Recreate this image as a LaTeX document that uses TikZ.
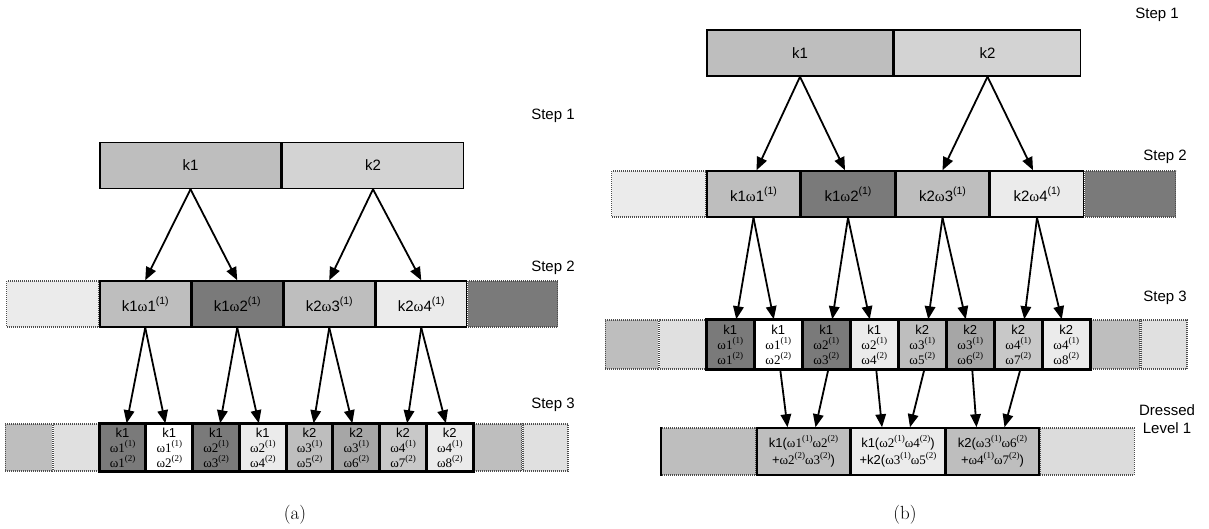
\documentclass[tikz,border=0pt]{standalone}
\usepackage{fontspec}
\newfontfamily\arialfont{Liberation Sans}
\newfontfamily\timesfont{Liberation Serif}
\usetikzlibrary{positioning,arrows.meta,backgrounds}
\definecolor{gmid}{HTML}{BEBEBE}
\definecolor{gtop}{HTML}{D3D3D3}
\definecolor{gdark}{HTML}{7A7A7A}
\definecolor{glight}{HTML}{EBEBEB}
\definecolor{gpale}{HTML}{E0E0E0}
\definecolor{gsix}{HTML}{A6A6A6}
\definecolor{gseven}{HTML}{C8C8C8}
\definecolor{gside}{HTML}{DCDCDC}

\newcommand{\om}{{\timesfont ω}}
\newcommand{\up}[1]{\raisebox{0.45em}{\fontsize{10.5}{10.5}\selectfont(#1)}}
\newcommand{\wl}[2]{{\timesfont ω#1\raisebox{0.45em}{\fontsize{9}{9}\selectfont(#2)}}}
\newcommand{\trip}[3]{#1\\\wl{#2}{1}\\\wl{#3}{2}}

\begin{document}
\begin{tikzpicture}[x=1pt,y=-1pt,
  cell/.style={draw, line width=1.5pt, inner sep=0pt, minimum height=46pt,
    font=\arialfont\fontsize{15}{17}\selectfont},
  subcell/.style={cell, minimum width=45.25pt, minimum height=47pt, align=center,
    font=\arialfont\fontsize{13}{15}\selectfont},
  sidebox/.style={draw=black!70, line width=1.2pt, dash pattern=on 1pt off 1pt,
    inner sep=0pt, minimum height=46pt},
  arr/.style={-{Triangle[length=13pt,width=10.5pt]}, line width=1.8pt},
  groupline/.style={line width=2.6pt},
  steplabel/.style={font=\arialfont\fontsize{15}{18}\selectfont, align=center},
  caption/.style={font=\fontsize{19}{22}\selectfont}]
  \useasboundingbox (0,0) rectangle (1209,529);

  %%% panel (a)
  % Step 1
  \node[cell, fill=gmid, minimum width=181pt] (a1k1) at (190.5,165.5) {k1};
  \node[cell, fill=gtop, minimum width=181pt, right=0pt of a1k1] (a1k2) {k2};

  % Step 2
  \node[cell, fill=gmid, minimum width=90.5pt] (a2c1) at (145.25,304) {k1\om1\up{1}};
  \node[cell, fill=gdark, minimum width=90.5pt, right=0pt of a2c1] (a2c2) {k1\om2\up{1}};
  \node[cell, fill=gmid, minimum width=90.5pt, right=0pt of a2c2] (a2c3) {k2\om3\up{1}};
  \node[cell, fill=glight, minimum width=90.5pt, right=0pt of a2c3] (a2c4) {k2\om4\up{1}};
  \begin{scope}[on background layer]
    \node[sidebox, fill=glight, minimum width=92pt, left=0pt of a2c1] (a2l) {};
    \node[sidebox, fill=gdark, minimum width=90pt, right=0pt of a2c4] (a2r) {};
  \end{scope}

  % Step 3
  \node[subcell, fill=gdark] (a3c1) at (122.6,447.5) {\trip{k1}{1}{1}};
  \node[subcell, fill=white, right=0pt of a3c1] (a3c2) {\trip{k1}{1}{2}};
  \node[subcell, fill=gdark, right=0pt of a3c2] (a3c3) {\trip{k1}{2}{3}};
  \node[subcell, fill=glight, right=0pt of a3c3] (a3c4) {\trip{k1}{2}{4}};
  \node[subcell, fill=gmid, right=0pt of a3c4] (a3c5) {\trip{k2}{3}{5}};
  \node[subcell, fill=gsix, right=0pt of a3c5] (a3c6) {\trip{k2}{3}{6}};
  \node[subcell, fill=gseven, right=0pt of a3c6] (a3c7) {\trip{k2}{4}{7}};
  \node[subcell, fill=glight, right=0pt of a3c7] (a3c8) {\trip{k2}{4}{8}};
  \draw[groupline] (a3c1.north west) rectangle (a3c8.south east);
  \begin{scope}[on background layer]
    \node[sidebox, fill=gpale, minimum width=45pt, minimum height=47pt, left=0pt of a3c1] (a3l2) {};
    \node[sidebox, fill=gmid, minimum width=47pt, minimum height=47pt, left=0pt of a3l2] (a3l1) {};
    \node[sidebox, fill=gmid, minimum width=48pt, minimum height=47pt, right=0pt of a3c8] (a3r1) {};
    \node[sidebox, fill=gpale, minimum width=45pt, minimum height=47pt, right=0pt of a3r1] (a3r2) {};
  \end{scope}

  % arrows
  \foreach \p/\c in {a1k1/a2c1, a1k1/a2c2, a1k2/a2c3, a1k2/a2c4}
    \draw[arr] (\p.south) -- (\c.north);
  \foreach \i [evaluate=\i as \l using int(2*\i-1), evaluate=\i as \r using int(2*\i)] in {1,...,4} {
    \draw[arr] (a2c\i.south) -- ([xshift=4pt]a3c\l.north);
    \draw[arr] (a2c\i.south) -- ([xshift=-4pt]a3c\r.north);
  }

  \node[steplabel] (a1lab) at (553,116) {Step 1};
  \node[steplabel] (a2lab) at (553,268) {Step 2};
  \node[steplabel] (a3lab) at (553,405) {Step 3};
  \node[caption] (acap) at (295,515) {(a)};

  %%% panel (b)
  % Step 1
  \node[cell, fill=gmid, minimum width=186pt] (b1k1) at (800,53) {k1};
  \node[cell, fill=gtop, minimum width=186pt, right=0pt of b1k1] (b1k2) {k2};

  % Step 2
  \node[cell, fill=gmid, minimum width=93pt] (b2c1) at (753.5,194) {k1\om1\up{1}};
  \node[cell, fill=gdark, minimum width=93pt, right=0pt of b2c1] (b2c2) {k1\om2\up{1}};
  \node[cell, fill=gmid, minimum width=93pt, right=0pt of b2c2] (b2c3) {k2\om3\up{1}};
  \node[cell, fill=glight, minimum width=93pt, right=0pt of b2c3] (b2c4) {k2\om4\up{1}};
  \begin{scope}[on background layer]
    \node[sidebox, fill=glight, minimum width=94pt, left=0pt of b2c1] (b2l) {};
    \node[sidebox, fill=gdark, minimum width=91pt, right=0pt of b2c4] (b2r) {};
  \end{scope}

  % Step 3
  \node[subcell, fill=gdark, minimum width=46.5pt, minimum height=49pt] (b3c1) at (730.25,344.5) {\trip{k1}{1}{1}};
  \node[subcell, fill=white, minimum width=46.5pt, minimum height=49pt, right=0pt of b3c1] (b3c2) {\trip{k1}{1}{2}};
  \node[subcell, fill=gdark, minimum width=46.5pt, minimum height=49pt, right=0pt of b3c2] (b3c3) {\trip{k1}{2}{3}};
  \node[subcell, fill=glight, minimum width=46.5pt, minimum height=49pt, right=0pt of b3c3] (b3c4) {\trip{k1}{2}{4}};
  \node[subcell, fill=gmid, minimum width=46.5pt, minimum height=49pt, right=0pt of b3c4] (b3c5) {\trip{k2}{3}{5}};
  \node[subcell, fill=gsix, minimum width=46.5pt, minimum height=49pt, right=0pt of b3c5] (b3c6) {\trip{k2}{3}{6}};
  \node[subcell, fill=gseven, minimum width=46.5pt, minimum height=49pt, right=0pt of b3c6] (b3c7) {\trip{k2}{4}{7}};
  \node[subcell, fill=glight, minimum width=46.5pt, minimum height=49pt, right=0pt of b3c7] (b3c8) {\trip{k2}{4}{8}};
  \draw[groupline] (b3c1.north west) rectangle (b3c8.south east);
  \begin{scope}[on background layer]
    \node[sidebox, fill=gpale, minimum width=46pt, minimum height=49pt, left=0pt of b3c1] (b3l2) {};
    \node[sidebox, fill=gmid, minimum width=53pt, minimum height=49pt, left=0pt of b3l2] (b3l1) {};
    \node[sidebox, fill=gmid, minimum width=49pt, minimum height=49pt, right=0pt of b3c8] (b3r1) {};
    \node[sidebox, fill=gpale, minimum width=46pt, minimum height=49pt, right=0pt of b3r1] (b3r2) {};
  \end{scope}

  % Dressed level 1
  \node[subcell, fill=gmid, minimum width=93pt, font=\arialfont\fontsize{13}{17}\selectfont] (bd1) at (803.5,451.5)
    {k1(\wl{1}{1}\wl{2}{2}\\+\wl{2}{2}\wl{3}{2})};
  \node[subcell, fill=glight, minimum width=93pt, font=\arialfont\fontsize{13}{17}\selectfont, right=0pt of bd1] (bd2)
    {k1(\wl{2}{1}\wl{4}{2})\\+k2(\wl{3}{1}\wl{5}{2}};
  \node[subcell, fill=gmid, minimum width=93pt, font=\arialfont\fontsize{13}{17}\selectfont, right=0pt of bd2] (bd3)
    {k2(\wl{3}{1}\wl{6}{2}\\+\wl{4}{1}\wl{7}{2})};
  \begin{scope}[on background layer]
    \node[sidebox, fill=gmid, minimum width=94pt, minimum height=47pt, left=0pt of bd1] (bdl) {};
    \node[sidebox, fill=gside, minimum width=94pt, minimum height=47pt, right=0pt of bd3] (bdr) {};
  \end{scope}
  \draw[line width=2pt] (bdl.north west) -- (bdl.south west);

  % arrows
  \draw[arr] (b1k1.south) -- ([xshift=3pt]b2c1.north);
  \draw[arr] (b1k1.south) -- ([xshift=-3pt]b2c2.north);
  \draw[arr] (b1k2.south) -- (b2c3.north);
  \draw[arr] (b1k2.south) -- ([xshift=-4pt]b2c4.north);
  \foreach \i [evaluate=\i as \l using int(2*\i-1), evaluate=\i as \r using int(2*\i)] in {1,...,4} {
    \draw[arr] (b2c\i.south) -- ([xshift=6pt]b3c\l.north);
    \draw[arr] (b2c\i.south) -- ([xshift=-4.5pt]b3c\r.north);
  }
  \foreach \d/\l/\r in {1/2/3, 2/4/5, 3/6/7} {
    \draw[arr] ([xshift=2pt]b3c\l.south) -- ([xshift=-16pt]bd\d.north);
    \draw[arr] ([xshift=2pt]b3c\r.south) -- ([xshift=12pt]bd\d.north);
  }

  \node[steplabel] (b1lab) at (1157,15) {Step 1};
  \node[steplabel] (b2lab) at (1165,157) {Step 2};
  \node[steplabel] (b3lab) at (1165,298) {Step 3};
  \node[steplabel] (bdlab) at (1167,419) {Dressed\\Level 1};
  \node[caption] (bcap) at (905,515) {(b)};
\end{tikzpicture}
\end{document}
